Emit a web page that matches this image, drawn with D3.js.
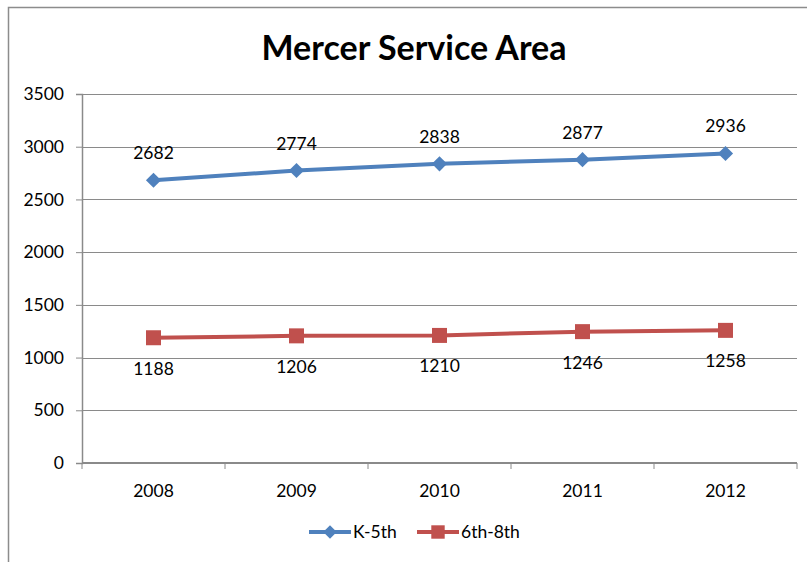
<!doctype html>
<html lang="en">
<head>
  <meta charset="utf-8">
  <title>Mercer Service Area</title>
  <style>
    body { margin:0; background:#fff; }
    svg text { font-family: Lato, "Open Sans", sans-serif; fill:#000; }
  </style>
</head>
<body>
<div id="chart"></div>
<script src="https://d3js.org/d3.v7.min.js"></script>
<script>
var years = ["2008", "2009", "2010", "2011", "2012"];
var k5 = [2682, 2774, 2838, 2877, 2936];
var g68 = [1188, 1206, 1210, 1246, 1258];
var yTicks = [0, 500, 1000, 1500, 2000, 2500, 3000, 3500];

var W = 807, H = 562;
var margin = { top: 94, right: 10, bottom: 99, left: 82 };
var plotW = 797 - margin.left, plotH = 463 - margin.top;

var svg = d3.select("#chart").append("svg")
  .attr("width", W).attr("height", H);

// outer chart border
svg.append("rect")
  .attr("x", 8.5).attr("y", 7.5)
  .attr("width", W + 10).attr("height", H + 10)
  .attr("fill", "none").attr("stroke", "#8c8c8c").attr("stroke-width", 1.5);

svg.append("text")
  .attr("x", 414).attr("y", 60)
  .attr("text-anchor", "middle")
  .style("font-size", "34px").style("font-weight", "bold")
  .text("Mercer Service Area");

var g = svg.append("g").attr("transform", "translate(" + margin.left + "," + margin.top + ")");

var x = d3.scaleBand().domain(years).range([0, plotW]);
var y = d3.scaleLinear().domain([0, 3500]).range([plotH, 0]);

// gridlines
g.selectAll(".grid").data(yTicks.slice(1)).enter().append("line")
  .attr("x1", 0).attr("x2", plotW)
  .attr("y1", function(d){ return Math.round(y(d)) + 0.5; })
  .attr("y2", function(d){ return Math.round(y(d)) + 0.5; })
  .attr("stroke", "#8a8a8a").attr("stroke-width", 1);

// y axis
var yAxis = g.append("g").call(d3.axisLeft(y).tickValues(yTicks).tickFormat(d3.format("d")).tickSize(6).tickPadding(12));
yAxis.select(".domain").attr("stroke", "#8a8a8a").attr("stroke-width", 1.5);
yAxis.selectAll(".tick line").attr("stroke", "#8a8a8a");
yAxis.selectAll("text").style("font-size", "17.5px");

// x axis with ticks at band boundaries
var xAxisG = g.append("g").attr("transform", "translate(0," + plotH + ")");
xAxisG.append("line").attr("x1", 0).attr("x2", plotW)
  .attr("stroke", "#8a8a8a").attr("stroke-width", 2);
var bounds = years.map(function(d){ return x(d); }).concat([plotW]);
xAxisG.selectAll(".xt").data(bounds).enter().append("line")
  .attr("x1", function(d){ return d; }).attr("x2", function(d){ return d; })
  .attr("y1", 0).attr("y2", 6)
  .attr("stroke", "#8a8a8a").attr("stroke-width", 1);
xAxisG.selectAll(".xl").data(years).enter().append("text")
  .attr("x", function(d){ return x(d) + x.bandwidth() / 2; })
  .attr("y", 34)
  .attr("text-anchor", "middle")
  .style("font-size", "17.5px")
  .text(function(d){ return d; });

var cx = function(d, i){ return x(years[i]) + x.bandwidth() / 2; };
var line = d3.line().x(cx).y(function(d){ return y(d); });

var series = [
  { name: "K-5th", values: k5, color: "#4F81BD", size: 115, rot: 45, dy: -21 },
  { name: "6th-8th", values: g68, color: "#C0504D", size: 225, rot: 0, dy: 37 }
];

series.forEach(function(s){
  g.append("path").datum(s.values)
    .attr("d", line)
    .attr("fill", "none").attr("stroke", s.color).attr("stroke-width", 4);
  g.selectAll(null).data(s.values).enter().append("path")
    .attr("d", d3.symbol().type(d3.symbolSquare).size(s.size))
    .attr("transform", function(d, i){ return "translate(" + cx(d, i) + "," + y(d) + ") rotate(" + s.rot + ")"; })
    .attr("fill", s.color);
  g.selectAll(null).data(s.values).enter().append("text")
    .attr("x", cx)
    .attr("y", function(d){ return y(d) + s.dy; })
    .attr("text-anchor", "middle")
    .style("font-size", "17.5px")
    .text(function(d){ return d; });
});

// legend
var legendX = [309, 417];
series.forEach(function(s, i){
  var lg = svg.append("g").attr("transform", "translate(" + legendX[i] + ",532)");
  lg.append("line").attr("x1", 0).attr("x2", 42)
    .attr("stroke", s.color).attr("stroke-width", 4);
  lg.append("path").attr("d", d3.symbol().type(d3.symbolSquare).size(s.size * 0.8))
    .attr("transform", "translate(21,0) rotate(" + s.rot + ")").attr("fill", s.color);
  lg.append("text").attr("x", 44).attr("y", 6)
    .style("font-size", "17.5px").text(s.name);
});
</script>
</body>
</html>
